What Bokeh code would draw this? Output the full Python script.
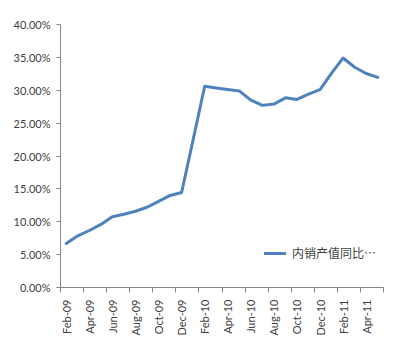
from bokeh.plotting import figure
from bokeh.models import FixedTicker, NumeralTickFormatter, Range1d, Legend, LegendItem
from bokeh.embed import file_html
from bokeh.resources import INLINE
import math

months = ["Feb-09", "Mar-09", "Apr-09", "May-09", "Jun-09", "Jul-09", "Aug-09", "Sep-09",
          "Oct-09", "Nov-09", "Dec-09", "Jan-10", "Feb-10", "Mar-10", "Apr-10", "May-10",
          "Jun-10", "Jul-10", "Aug-10", "Sep-10", "Oct-10", "Nov-10", "Dec-10", "Jan-11",
          "Feb-11", "Mar-11", "Apr-11", "May-11"]
values = [0.067, 0.0786, 0.0867, 0.096, 0.1075, 0.1115, 0.116, 0.122,
          0.131, 0.140, 0.1445, 0.225, 0.306, 0.3035, 0.301, 0.299,
          0.285, 0.277, 0.279, 0.2885, 0.286, 0.294, 0.301, 0.326,
          0.349, 0.335, 0.3255, 0.3195]
series_name = "内销产值同比…"
y_ticks = [0.0, 0.05, 0.10, 0.15, 0.20, 0.25, 0.30, 0.35, 0.40]

xs = [i + 0.5 for i in range(len(months))]

p = figure(width=414, height=356, output_backend="svg", toolbar_location=None,
           x_range=Range1d(0, len(months)), y_range=Range1d(0, 0.40),
           min_border_left=60, min_border_right=31, min_border_top=24, min_border_bottom=69)
p.outline_line_color = None
p.xgrid.grid_line_color = None
p.ygrid.grid_line_color = None
p.background_fill_color = "white"
p.border_fill_color = "white"

r = p.line(xs, values, line_color="#4F81BD", line_width=3, line_join="round", line_cap="round")

label_pos = xs[::2]
p.xaxis.ticker = FixedTicker(ticks=label_pos, minor_ticks=list(range(0, len(months) + 1, 2)))
p.xaxis.major_label_overrides = {x: months[i * 2] for i, x in enumerate(label_pos)}
p.xaxis.major_label_orientation = math.pi / 2
p.xaxis.major_tick_out = 0
p.xaxis.major_tick_in = 0
p.xaxis.minor_tick_out = 5
p.xaxis.minor_tick_in = 0
p.xaxis.minor_tick_line_color = "#868686"
p.xaxis.axis_line_color = "#868686"
p.xaxis.major_label_standoff = 7

p.yaxis.ticker = FixedTicker(ticks=y_ticks, minor_ticks=[])
p.yaxis.formatter = NumeralTickFormatter(format="0.00%")
p.yaxis.major_tick_out = 4
p.yaxis.major_tick_in = 0
p.yaxis.major_tick_line_color = "#868686"
p.yaxis.axis_line_color = "#868686"
p.yaxis.major_label_standoff = 6

for ax in (p.xaxis, p.yaxis):
    ax.major_label_text_font = "Lato"
    ax.major_label_text_font_size = "11px"
    ax.major_label_text_color = "#404040"

legend = Legend(items=[LegendItem(label=series_name, renderers=[r])],
                location=(204, 26), padding=0, margin=0, spacing=0,
                glyph_width=22, glyph_height=14, label_standoff=6,
                label_text_font="Noto Sans CJK SC", label_text_font_size="12px",
                label_text_color="#404040", background_fill_alpha=0, border_line_color=None)
p.add_layout(legend)

open("out.html", "w").write(file_html(p, INLINE))
